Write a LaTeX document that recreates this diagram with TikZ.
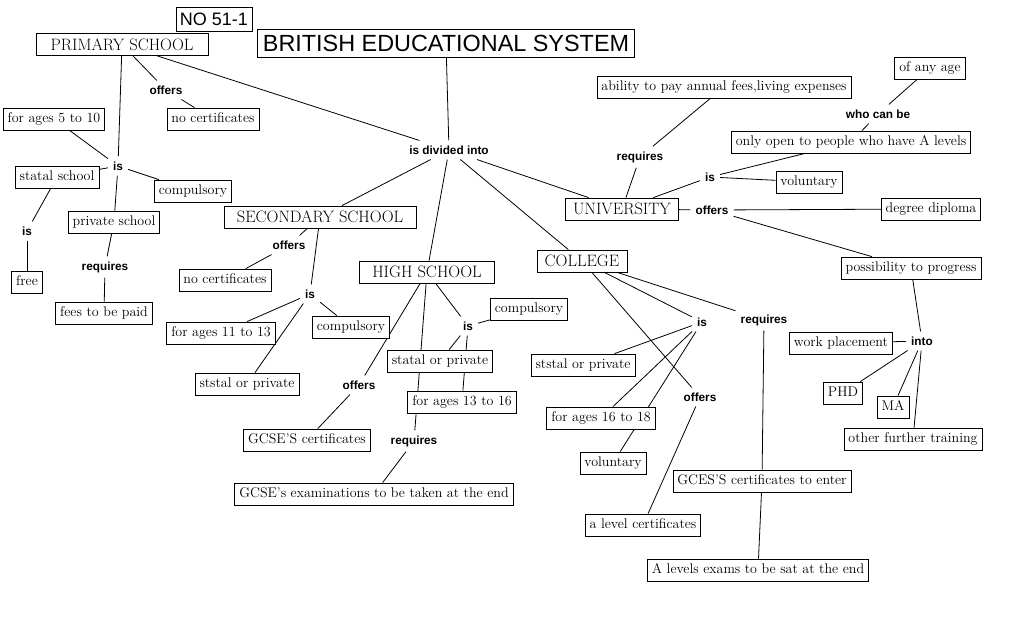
\documentclass[tikz,border=0pt]{standalone}
\usepackage{fontspec}
\newfontfamily\lblfont{Liberation Sans}
\usetikzlibrary{backgrounds}
\tikzset{
  box/.style={draw, line width=0.8pt, fill=white, font=\fontsize{14}{16}\selectfont,
    inner xsep=4.5pt, inner ysep=4.5pt, text height=10pt, text depth=3pt},
  capbox/.style={box, font=\fontsize{16.5}{18}\selectfont, text height=11.5pt,
    text depth=0pt, inner ysep=5.25pt},
  titlebox/.style={draw, line width=0.8pt, fill=white, font=\lblfont\fontsize{23.4}{26}\selectfont,
    inner xsep=5pt, inner ysep=5.5pt, text height=17pt, text depth=0pt},
  numbox/.style={draw, line width=0.8pt, fill=white, font=\lblfont\fontsize{18}{20}\selectfont,
    inner xsep=4pt, inner ysep=5.5pt, text height=13pt, text depth=0pt},
  lbl/.style={font=\lblfont\bfseries\fontsize{11.8}{13}\selectfont, inner sep=5pt},
  conn/.style={line width=0.8pt}
}
\begin{document}
\begin{tikzpicture}[x=1pt, y=-1pt]
\useasboundingbox (0,0) rectangle (1027,621);
% titles
\node[numbox] (no) at (214,19) {NO 51-1};
\node[titlebox] (bes) at (446,43) {BRITISH EDUCATIONAL SYSTEM};
\node[lbl] (isdiv) at (449,150) {is divided into};
% primary
\node[capbox, minimum width=172pt] (prim) at (122,44.5) {PRIMARY SCHOOL};
\node[lbl] (off1) at (166,90) {offers};
\node[box] (nocert1) at (213,119) {no certificates};
\node[box] (ages5) at (54,119) {for ages 5 to 10};
\node[lbl] (is1) at (118,166) {is};
\node[box] (statal) at (57,177) {statal school};
\node[box] (comp1) at (193,191) {compulsory};
\node[box] (priv) at (114,222) {private school};
\node[lbl] (is2) at (27,231) {is};
\node[box] (free) at (27,282) {free};
\node[lbl] (req1) at (105,267) {requires};
\node[box] (fees) at (104,313) {fees to be paid};
% secondary
\node[capbox, minimum width=192pt] (sec) at (320,217) {SECONDARY SCHOOL};
\node[lbl] (off2) at (289,245) {offers};
\node[box] (nocert2) at (225,280) {no certificates};
\node[lbl] (is3) at (310,294) {is};
\node[box] (ages11) at (221,333) {for ages 11 to 13};
\node[box] (comp2) at (351,327) {compulsory};
\node[box] (ststal2) at (247,384) {ststal or private};
% high school
\node[capbox, minimum width=135pt] (high) at (427,272) {HIGH SCHOOL};
\node[lbl] (is4) at (468,326) {is};
\node[box] (comp3) at (529,309) {compulsory};
\node[box] (stathigh) at (440,361) {statal or private};
\node[box] (ages13) at (462,402) {for ages 13 to 16};
\node[lbl] (off3) at (359,385) {offers};
\node[box] (gcsecert) at (307,440) {GCSE'S certificates};
\node[lbl] (req2) at (414,441) {requires};
\node[box] (gcseexam) at (374,494) {GCSE's examinations to be taken at the end};
% college
\node[capbox, minimum width=90pt] (coll) at (582,261) {COLLEGE};
\node[lbl] (is5) at (702,322) {is};
\node[lbl] (req3) at (764,320) {requires};
\node[box] (ststal3) at (583,365) {ststal or private};
\node[box] (ages16) at (601,418) {for ages 16 to 18};
\node[box] (vol2) at (613,463) {voluntary};
\node[lbl] (off4) at (700,397) {offers};
\node[box] (alevel) at (643,525) {a level certificates};
\node[box] (gces) at (762,481) {GCES'S certificates to enter};
\node[box] (alexam) at (758,570) {A levels exams to be sat at the end};
% university
\node[capbox, minimum width=113pt] (univ) at (622,209) {UNIVERSITY};
\node[lbl] (req4) at (640,157) {requires};
\node[box] (ability) at (724,87) {ability to pay annual fees,living expenses};
\node[lbl] (is6) at (710,177) {is};
\node[box] (open) at (851,142) {only open to people who have A levels};
\node[lbl] (who) at (878,114) {who can be};
\node[box] (anyage) at (930,68) {of any age};
\node[box] (vol3) at (809,182) {voluntary};
\node[lbl] (off5) at (712,210) {offers};
\node[box] (degree) at (931,209) {degree diploma};
\node[box] (poss) at (911,268) {possibility to progress};
\node[lbl] (into) at (922,341) {into};
\node[box] (work) at (841,343) {work placement};
\node[box] (phd) at (843,393) {PHD};
\node[box] (ma) at (893,407) {MA};
\node[box] (other) at (913,439) {other further training};
% connectors
\begin{scope}[on background layer]
\fill[white] (0,0) rectangle (1027,621);
\draw[conn] (bes) -- (isdiv);
\draw[conn] (prim) -- (isdiv);
\draw[conn] (isdiv) -- (sec);
\draw[conn] (isdiv) -- (high);
\draw[conn] (isdiv) -- (coll);
\draw[conn] (isdiv) -- (univ);
% primary
\draw[conn] (prim) -- (off1);
\draw[conn] (off1) -- (nocert1);
\draw[conn] (prim) -- (is1);
\draw[conn] (is1) -- (ages5);
\draw[conn] (is1) -- (statal);
\draw[conn] (is1) -- (comp1);
\draw[conn] (is1) -- (priv);
\draw[conn] (statal) -- (is2);
\draw[conn] (is2) -- (free);
\draw[conn] (priv) -- (req1);
\draw[conn] (req1) -- (fees);
% secondary
\draw[conn] (sec) -- (off2);
\draw[conn] (off2) -- (nocert2);
\draw[conn] (sec) -- (is3);
\draw[conn] (is3) -- (ages11);
\draw[conn] (is3) -- (comp2);
\draw[conn] (is3) -- (ststal2);
% high
\draw[conn] (high) -- (is4);
\draw[conn] (is4) -- (comp3);
\draw[conn] (is4) -- (stathigh);
\draw[conn] (is4) -- (ages13);
\draw[conn] (high) -- (off3);
\draw[conn] (off3) -- (gcsecert);
\draw[conn] (high) -- (req2);
\draw[conn] (req2) -- (gcseexam);
% college
\draw[conn] (coll) -- (is5);
\draw[conn] (is5) -- (ststal3);
\draw[conn] (is5) -- (ages16);
\draw[conn] (is5) -- (vol2);
\draw[conn] (coll) -- (off4);
\draw[conn] (off4) -- (alevel);
\draw[conn] (coll) -- (req3);
\draw[conn] (req3) -- (gces);
\draw[conn] (gces) -- (alexam);
% university
\draw[conn] (univ) -- (req4);
\draw[conn] (req4) -- (ability);
\draw[conn] (univ) -- (is6);
\draw[conn] (is6) -- (open);
\draw[conn] (is6) -- (vol3);
\draw[conn] (open) -- (who);
\draw[conn] (who) -- (anyage);
\draw[conn] (univ) -- (off5);
\draw[conn] (off5) -- (degree);
\draw[conn] (off5) -- (poss);
\draw[conn] (poss) -- (into);
\draw[conn] (into) -- (work);
\draw[conn] (into) -- (phd);
\draw[conn] (into) -- (ma);
\draw[conn] (into) -- (other);
\end{scope}
\end{tikzpicture}
\end{document}
